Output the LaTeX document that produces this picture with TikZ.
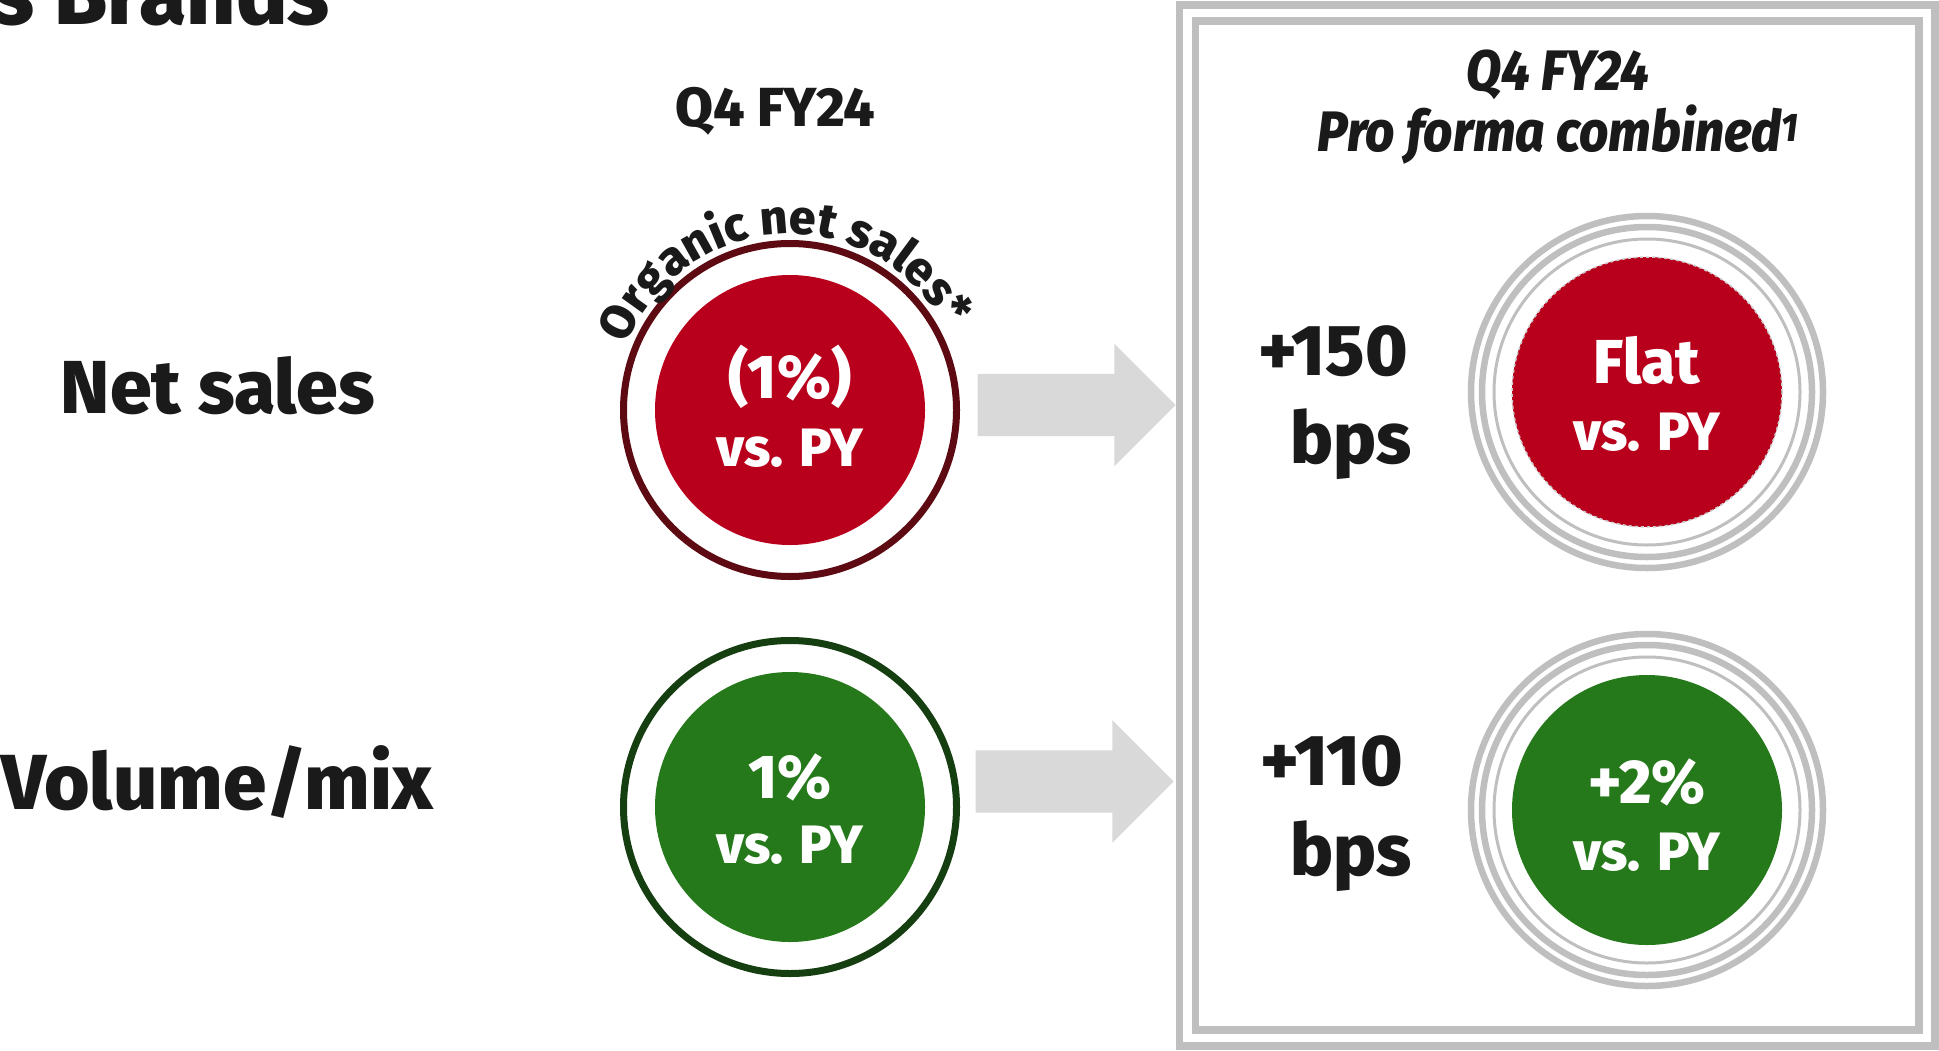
\documentclass[tikz,border=0pt]{standalone}
\usepackage{fontspec}
\setmainfont{Fira Sans}[BoldFont={Fira Sans ExtraBold}, BoldItalicFont={Fira Sans ExtraBold Italic}]
\newfontfamily\condfont{Fira Sans}[FakeStretch=0.9, BoldFont={Fira Sans ExtraBold}, BoldItalicFont={Fira Sans ExtraBold Italic}]
\usetikzlibrary{shapes.arrows,decorations.text}
\definecolor{nsred}{HTML}{B8001C}
\definecolor{ringred}{HTML}{5E0A12}
\definecolor{nsgreen}{HTML}{25791A}
\definecolor{ringgreen}{HTML}{153F10}
\definecolor{ink}{HTML}{1A1A1A}
\definecolor{boxgray}{HTML}{BFBFBF}
\definecolor{arrowgray}{HTML}{D9D9D9}
\newcommand{\fsz}[1]{\fontsize{#1}{#1}\selectfont}
\begin{document}
\begin{tikzpicture}[x=1pt,y=1pt,
  lbl/.style={text=ink, font=\bfseries\fsz{75}, inner sep=0, anchor=base},
  disk/.style={circle, fill=#1, minimum size=270, inner sep=0},
  ring/.style={circle, draw=#1, line width=7, minimum size=333, inner sep=0},
  grayring/.style={circle, draw=boxgray, inner sep=0},
  bigtxt/.style={text=white, font=\bfseries\fsz{62}, inner sep=0, anchor=base},
  smalltxt/.style={text=white, font=\bfseries\fsz{54}, inner sep=0, anchor=base},
  bpstxt/.style={text=ink, font=\bfseries\fsz{72}, inner sep=0, anchor=base},
  hdr/.style={text=ink, font=\condfont\bfseries\itshape\fsz{57}, inner sep=0, anchor=base},
  blockarrow/.style={single arrow, fill=arrowgray, draw=none, inner xsep=0, inner ysep=31,
     minimum height=198, single arrow head extend=30, single arrow tip angle=90},
]
\useasboundingbox (0,-1050) rectangle (1939,0);

% cropped title
\begin{scope}
\clip (0,-1050) rectangle (1939,0);
\node[lbl, font=\bfseries\fsz{86}, anchor=base east] (title) at (330,-24) {s Brands};
\end{scope}

% row labels
\node[lbl] (netsales) at (218,-413) {Net sales};
\node[lbl, font=\bfseries\fsz{78}] (volmix) at (217,-809) {Volume/mix};

% left header
\node[lbl, font=\bfseries\fsz{55}] (hdrleft) at (775,-126) {Q4 FY24};

% left circles
\node[ring=ringred] (ringA) at (790,-410) {};
\node[disk=nsred] (diskA) at (790,-410) {};
\node[bigtxt] (valA) at (790,-398) {(1\%)};
\node[smalltxt] (vsA) at (790,-466) {vs. PY};
\path[decorate, decoration={text along path, text align=center,
   text={|\color{ink}\bfseries\fsz{48}|Organic net sales*}}]
   (790,-410) ++(183:176) arc[start angle=183, end angle=3, radius=176];

\node[ring=ringgreen] (ringB) at (790,-807) {};
\node[disk=nsgreen] (diskB) at (790,-807) {};
\node[bigtxt] (valB) at (790,-798) {1\%};
\node[smalltxt] (vsB) at (790,-863) {vs. PY};

% arrows
\node[blockarrow] (arr1) at (1061,-405) {};
\node[blockarrow] (arr2) at (1059,-781.5) {};

% box
\draw[boxgray, line width=7.5] (1179.5,-5) rectangle (1935,-1046);
\draw[boxgray, line width=7.5] (1195.5,-21) rectangle (1919,-1030);

% right header
\node[hdr] (hdrR1) at (1558,-90) {Q4 FY24};
\node[hdr] (hdrR2) at (1558,-151) {Pro forma combined\textsuperscript{1}};

% bps
\node[bpstxt] (bpsA1) at (1333,-375) {+150};
\node[bpstxt] (bpsA2) at (1351,-463) {bps};
\node[bpstxt] (bpsB1) at (1332,-785) {+110};
\node[bpstxt] (bpsB2) at (1351,-875) {bps};

% right circles
\foreach \cy/\nm in {392/C, 810/D}{
  \node[grayring, line width=6.5, minimum size=352] (ro\nm) at (1647,-\cy) {};
  \node[grayring, line width=6.5, minimum size=330] (rm\nm) at (1647,-\cy) {};
  \node[grayring, line width=3, minimum size=306] (ri\nm) at (1647,-\cy) {};
}
\node[disk=nsred, draw=boxgray!80, dashed, line width=1.5] (diskC) at (1647,-392) {};
\node[bigtxt] (valC) at (1647,-383) {Flat};
\node[smalltxt] (vsC) at (1647,-450) {vs. PY};

\node[disk=nsgreen] (diskD) at (1647,-810) {};
\node[bigtxt] (valD) at (1647,-803) {+2\%};
\node[smalltxt] (vsD) at (1647,-870) {vs. PY};
\end{tikzpicture}
\end{document}
